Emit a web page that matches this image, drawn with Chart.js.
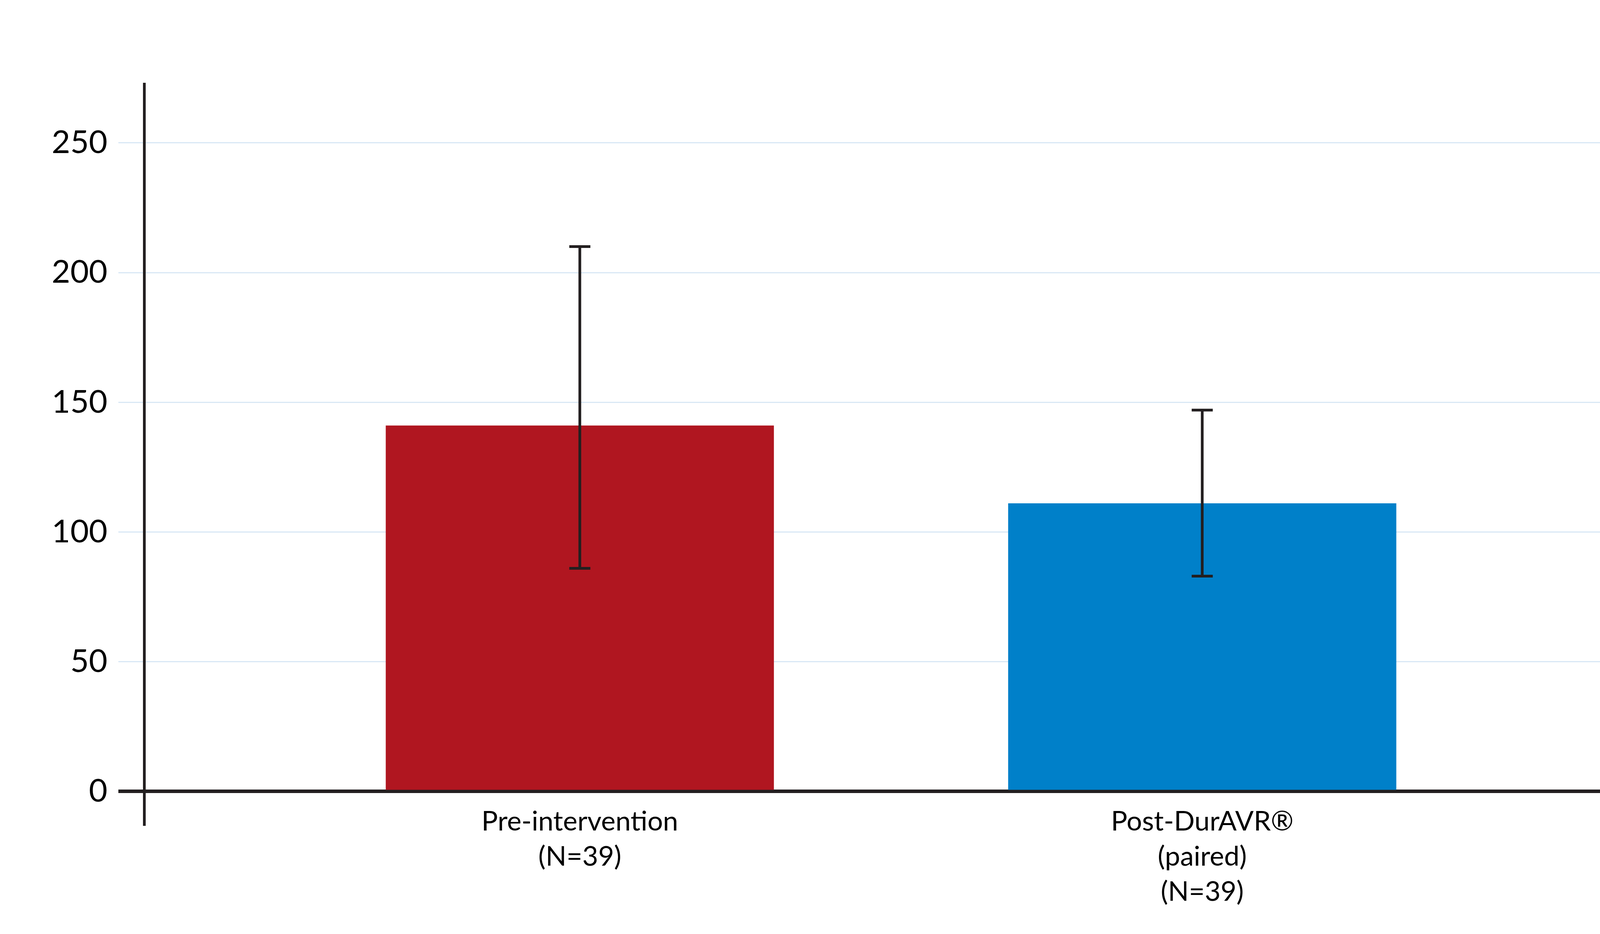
<!DOCTYPE html>
<html>
<head>
<meta charset="utf-8">
<script src="https://cdn.jsdelivr.net/npm/chart.js@4.4.1/dist/chart.umd.min.js"></script>
<style>
  html, body { margin:0; padding:0; background:#fff; overflow:hidden; }
  #wrap { width:4297px; height:2392px; }
  canvas { display:block; }
</style>
</head>
<body>
<div id="wrap"><canvas id="c" width="4297" height="2392"></canvas></div>
<script>
  // categories + values
  const categories = [
    ['Pre-intervention', '(N=39)'],
    ['Post-DurAVR®', '(paired)', '(N=39)']
  ];
  const means = [141, 111];
  const errHigh = [210, 147];
  const errLow = [86, 83];
  const barColors = ['#B01620', '#0080C9'];
  const yTicks = [0, 50, 100, 150, 200, 250];

  const AXIS = '#231F20';
  const FONT = 'Lato, "Open Sans", sans-serif';

  // error bars, drawn with the chart's own scales
  const errorBars = {
    id: 'errorBars',
    afterDatasetsDraw(chart){
      const xs = chart.scales.x, ys = chart.scales.y, ctx = chart.ctx;
      ctx.save();
      ctx.strokeStyle = AXIS;
      ctx.lineWidth = 7;
      means.forEach((m, i) => {
        const x = xs.getPixelForValue(i);
        const yh = ys.getPixelForValue(errHigh[i]);
        const yl = ys.getPixelForValue(errLow[i]);
        ctx.beginPath();
        ctx.moveTo(x, yh); ctx.lineTo(x, yl);
        ctx.moveTo(x - 27, yh); ctx.lineTo(x + 27, yh);
        ctx.moveTo(x - 27, yl); ctx.lineTo(x + 27, yl);
        ctx.stroke();
      });
      ctx.restore();
    }
  };

  new Chart(document.getElementById('c').getContext('2d'), {
    type: 'bar',
    data: {
      datasets: [{
        data: means.map((v, i) => ({ x: i, y: v })),
        backgroundColor: barColors,
        borderWidth: 0,
        barThickness: 993
      }]
    },
    options: {
      responsive: false,
      devicePixelRatio: 1,
      animation: false,
      layout: { padding: { top: 215, right: 88, left: 0, bottom: 0 } },
      plugins: { legend: { display: false }, tooltip: { enabled: false } },
      scales: {
        x: {
          type: 'linear',
          offset: false,
          min: -0.7,
          max: 1.71,
          afterBuildTicks(s){ s.ticks = categories.map((_, i) => ({ value: i })); },
          afterFit(s){
            s.height = 282;
            // labels sit a little above the axis box, so don't clip them to it
            s._computeLabelArea = () => null;
          },
          grid: { display: false, drawTicks: false },
          border: { display: false },
          ticks: {
            callback: (v) => categories[v] || '',
            color: '#000',
            padding: -50,
            maxRotation: 0,
            autoSkip: false,
            font: { family: FONT, size: 70, lineHeight: 1.28 }
          }
        },
        y: {
          min: -12.5,
          max: 272.7,
          afterBuildTicks(s){ s.ticks = yTicks.map(v => ({ value: v })); },
          afterFit(s){ s.width = 369; },
          border: { display: true, color: AXIS, width: 7 },
          grid: {
            color: (c) => c.tick && c.tick.value === 0 ? AXIS : '#D9E8F5',
            lineWidth: (c) => c.tick && c.tick.value === 0 ? 9 : 3,
            tickLength: 66
          },
          ticks: {
            color: '#000',
            padding: 28,
            font: { family: FONT, size: 82 }
          }
        }
      }
    },
    plugins: [errorBars]
  });
</script>
</body>
</html>
